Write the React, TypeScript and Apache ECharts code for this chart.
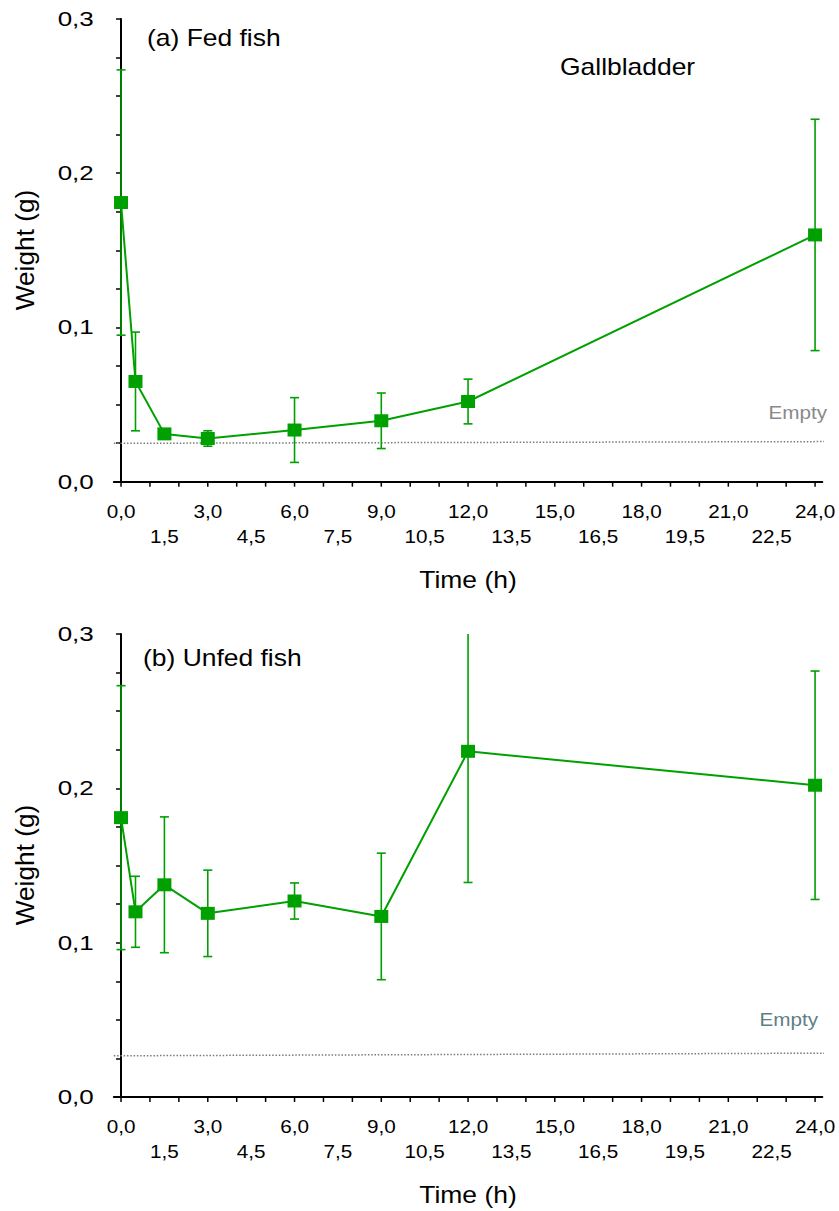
import React, { useEffect, useRef } from "react";
import * as echarts from "echarts";

// Sampling times (h)
const hours = [0, 0.5, 1.5, 3, 6, 9, 12, 24];

// Gallbladder weight (g), mean and standard deviation
const fedMean = [0.181, 0.065, 0.031, 0.028, 0.0335, 0.0395, 0.052, 0.16];
const fedSD = [0.086, 0.032, 0.003, 0.005, 0.021, 0.018, 0.0145, 0.075];
const unfedMean = [0.181, 0.12, 0.1375, 0.119, 0.127, 0.117, 0.224, 0.202];
const unfedSD = [0.0855, 0.023, 0.044, 0.028, 0.0117, 0.041, 0.085, 0.074];

// Reference level of an empty gallbladder (start and end of the dotted line)
const emptyHours = [-0.25, 24.35];
const emptyFed = [0.0249, 0.026];
const emptyUnfed = [0.0267, 0.0284];

// Axis ticks and labels
const xTickHours = [0, 1, 2, 3, 4, 5, 6, 7, 8, 9, 10, 11, 12, 13, 14, 15, 16, 17, 18, 19, 20, 21, 22, 23, 24];
const xLabelHours = [0, 1.5, 3, 4.5, 6, 7.5, 9, 10.5, 12, 13.5, 15, 16.5, 18, 19.5, 21, 22.5, 24];
const xLabelTexts = ["0,0", "1,5", "3,0", "4,5", "6,0", "7,5", "9,0", "10,5", "12,0", "13,5", "15,0", "16,5", "18,0", "19,5", "21,0", "22,5", "24,0"];
const yLabelValues = [0, 0.1, 0.2, 0.3];
const yLabelTexts = ["0,0", "0,1", "0,2", "0,3"];

const X_MIN = -0.25;
const X_MAX = 24.25;
const Y_MAX = 0.3;
const GREEN = "#00a000";
const FONT = "'Liberation Sans', Arial, Helvetica, sans-serif";

function panelSeries(g: number, mean: number[], sd: number[], empty: number[]) {
  return [
    // dotted "empty" reference line
    {
      type: "line",
      xAxisIndex: g,
      yAxisIndex: g,
      data: emptyHours.map((h, i) => [h, empty[i]]),
      symbol: "none",
      clip: false,
      silent: true,
      z: 1,
      lineStyle: { color: "#7a7a7a", width: 1.5, type: [1.5, 1.8] },
    },
    // error bars
    {
      type: "custom",
      xAxisIndex: g,
      yAxisIndex: g,
      clip: false,
      silent: true,
      z: 2,
      data: hours.map((h, i) => [h, mean[i] - sd[i], mean[i] + sd[i]]),
      renderItem: (_p: any, api: any) => {
        const x = api.value(0);
        const lo = api.value(1);
        const hi = api.value(2);
        const pLo = api.coord([x, lo]);
        const pHi = api.coord([x, Math.min(hi, Y_MAX)]);
        const st = { stroke: GREEN, lineWidth: 1.6 };
        const children: any[] = [
          { type: "line", shape: { x1: pLo[0], y1: pLo[1], x2: pHi[0], y2: pHi[1] }, style: st },
          { type: "line", shape: { x1: pLo[0] - 4.5, y1: pLo[1], x2: pLo[0] + 4.5, y2: pLo[1] }, style: st },
        ];
        if (hi <= Y_MAX) {
          children.push({ type: "line", shape: { x1: pHi[0] - 4.5, y1: pHi[1], x2: pHi[0] + 4.5, y2: pHi[1] }, style: st });
        }
        return { type: "group", children };
      },
    },
    // means
    {
      type: "line",
      xAxisIndex: g,
      yAxisIndex: g,
      data: hours.map((h, i) => [h, mean[i]]),
      symbol: "rect",
      symbolSize: [14, 13],
      showSymbol: true,
      z: 3,
      itemStyle: { color: GREEN },
      lineStyle: { color: GREEN, width: 2 },
    },
    // x ticks every hour
    {
      type: "custom",
      xAxisIndex: g,
      yAxisIndex: g,
      clip: false,
      silent: true,
      data: xTickHours.map((h) => [h, 0]),
      renderItem: (_p: any, api: any) => {
        const p = api.coord([api.value(0), 0]);
        return {
          type: "line",
          shape: { x1: p[0], y1: p[1], x2: p[0], y2: p[1] + 5 },
          style: { stroke: "#000", lineWidth: 1.5 },
        };
      },
    },
    // x labels in two staggered rows
    {
      type: "custom",
      xAxisIndex: g,
      yAxisIndex: g,
      clip: false,
      silent: true,
      data: xLabelHours.map((h, i) => [h, 0, i]),
      renderItem: (_p: any, api: any) => {
        const i = api.value(2);
        const p = api.coord([api.value(0), 0]);
        return {
          type: "text",
          x: p[0],
          y: p[1] + 30 + (i % 2) * 25,
          scaleX: 1.15,
          style: {
            text: xLabelTexts[i],
            fontSize: 18,
            fontFamily: FONT,
            fill: "#000",
            align: "center",
            verticalAlign: "middle",
          },
        };
      },
    },
    // y labels
    {
      type: "custom",
      xAxisIndex: g,
      yAxisIndex: g,
      clip: false,
      silent: true,
      data: yLabelValues.map((v, i) => [X_MIN, v, i]),
      renderItem: (_p: any, api: any) => {
        const i = api.value(2);
        const p = api.coord([X_MIN, api.value(1)]);
        return {
          type: "text",
          x: p[0] - 20,
          y: p[1],
          scaleX: 1.3,
          style: {
            text: yLabelTexts[i],
            fontSize: 20,
            fontFamily: FONT,
            fill: "#000",
            align: "right",
            verticalAlign: "middle",
          },
        };
      },
    },
  ];
}

function axisPair(g: number) {
  return {
    x: {
      gridIndex: g,
      type: "value",
      min: X_MIN,
      max: X_MAX,
      axisLine: { show: true, onZero: false, lineStyle: { color: "#000", width: 2 } },
      axisTick: { show: false },
      axisLabel: { show: false },
      splitLine: { show: false },
    },
    y: {
      gridIndex: g,
      type: "value",
      min: 0,
      max: Y_MAX,
      interval: 0.025,
      axisLine: { show: true, lineStyle: { color: "#000", width: 2 } },
      axisTick: { show: true, inside: false, length: 5, lineStyle: { color: "#000", width: 1.5 } },
      axisLabel: { show: false },
      splitLine: { show: false },
    },
  };
}

function label(text: string, x: number, y: number, opts: any = {}) {
  return {
    type: "text",
    x,
    y,
    scaleX: opts.scaleX ?? 1.15,
    rotation: opts.rotation ?? 0,
    silent: true,
    style: {
      text,
      fontSize: opts.fontSize ?? 23,
      fontFamily: FONT,
      fill: opts.fill ?? "#000",
      align: opts.align ?? "left",
      verticalAlign: "middle",
    },
  };
}

export default function App() {
  const ref = useRef<HTMLDivElement>(null);

  useEffect(() => {
    if (!ref.current) return;
    const chart = echarts.init(ref.current, undefined, { renderer: "svg" });
    const a0 = axisPair(0);
    const a1 = axisPair(1);
    chart.setOption({
      animation: false,
      backgroundColor: "#fff",
      grid: [
        { left: 113.8, top: 19, width: 708.5, height: 462.7 },
        { left: 113.8, top: 634, width: 708.5, height: 463 },
      ],
      xAxis: [a0.x, a1.x],
      yAxis: [a0.y, a1.y],
      series: [
        ...panelSeries(0, fedMean, fedSD, emptyFed),
        ...panelSeries(1, unfedMean, unfedSD, emptyUnfed),
      ],
      graphic: [
        label("(a) Fed fish", 147, 38),
        label("Gallbladder", 560, 67),
        label("Empty", 827, 413, { fontSize: 18, align: "right", fill: "#8a8a8a" }),
        label("Time (h)", 468, 580, { align: "center" }),
        label("Weight (g)", 25, 250, { align: "center", rotation: Math.PI / 2, fontSize: 25, scaleX: 1.05 }),
        label("(b) Unfed fish", 143, 658),
        label("Empty", 818, 1020, { fontSize: 18, align: "right", fill: "#5f7f87" }),
        label("Time (h)", 468, 1195, { align: "center" }),
        label("Weight (g)", 25, 865, { align: "center", rotation: Math.PI / 2, fontSize: 25, scaleX: 1.05 }),
      ],
    });
    return () => chart.dispose();
  }, []);

  return (
    <div
      ref={ref}
      style={{ position: "fixed", left: 0, top: 0, width: 839, height: 1211, background: "#fff" }}
    />
  );
}
